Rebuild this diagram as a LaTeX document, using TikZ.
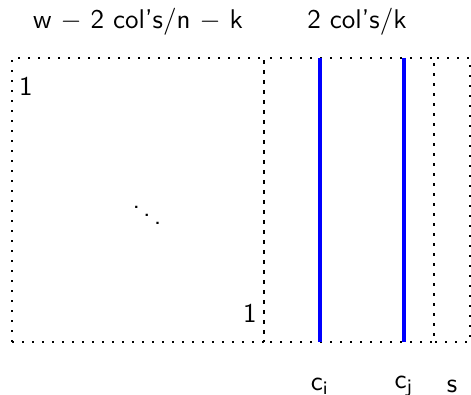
\documentclass[tikz,border=0pt]{standalone}
\usepackage{tikz}

\begin{document}
\begin{tikzpicture}[font=\sffamily]
    % Define colours
    \definecolor{lineColour}{HTML}{0000FF}

    % Define styles
    \tikzset{
        boxline/.style={line width=0.65pt, dash pattern=on 0.65pt off 3.05pt},
        colline/.style={lineColour, line width=1.3pt},
        label/.style={inner sep=1pt}
    }

    % Fix the bounding box
    \useasboundingbox (-0.156,-0.689) rectangle (5.967,4.446);

    % Define coordinates for the blocks
    \coordinate (O) at (0,0);
    \coordinate (A) at (3.276,3.692);
    \coordinate (B) at (3.276,0);
    \coordinate (C) at (5.486,3.692);
    \coordinate (D) at (5.486,0);
    \coordinate (E) at (5.954,3.692);

    % Draw the dotted blocks
    \draw[boxline] (O) rectangle (A);
    \draw[boxline] (B) rectangle (C);
    \draw[boxline, dash phase=1pt] (D) rectangle (E);

    % Draw the two columns
    \coordinate (Itop) at (4.004,3.692);
    \coordinate (Ibot) at (4.004,0);
    \coordinate (Jtop) at (5.096,3.692);
    \coordinate (Jbot) at (5.096,0);
    \draw[colline] (Itop) -- (Ibot);
    \draw[colline] (Jtop) -- (Jbot);

    % Labels above the blocks
    \node[label] (leftLabel) at (1.638,4.16) {w $-$ 2 col's/n $-$ k};
    \node[label] (rightLabel) at (4.485,4.16) {2 col's/k};

    % Identity entries
    \node[label] (oneTop) at (0.182,3.328) {1};
    \node[label] (dots) at (1.755,1.755) {$\ddots$};
    \node[label] (oneBot) at (3.094,0.377) {1};

    % Labels below the columns
    \node[label] (ci) at (4.004,-0.572) {c\textsubscript{i}};
    \node[label] (cj) at (5.096,-0.572) {c\textsubscript{j}};
    \node[label] (s) at (5.72,-0.572) {s};
\end{tikzpicture}
\end{document}
